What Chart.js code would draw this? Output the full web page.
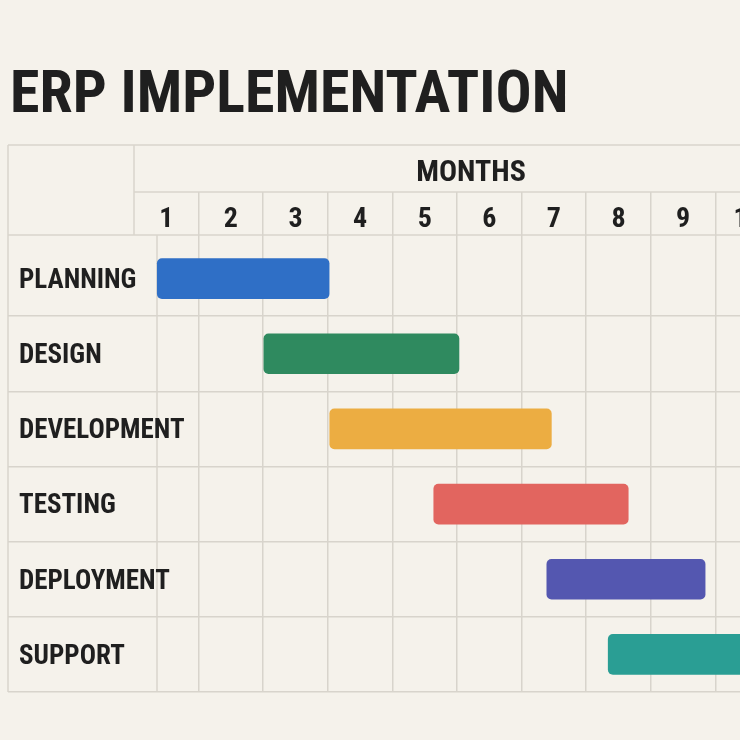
<!DOCTYPE html>
<html>
<head>
<meta charset="utf-8">
<script src="https://cdn.jsdelivr.net/npm/chart.js@4.4.1/dist/chart.umd.min.js"></script>
<style>
  html, body { margin: 0; padding: 0; background: #f5f2eb; }
  #wrap { width: 740px; height: 740px; }
  canvas { display: block; }
</style>
</head>
<body>
<div id="wrap"><canvas id="c" width="740" height="740"></canvas></div>
<script>
// ---- data ----
const chartTitle = 'ERP IMPLEMENTATION';
const headerLabel = 'MONTHS';
const tasks = ['PLANNING', 'DESIGN', 'DEVELOPMENT', 'TESTING', 'DEPLOYMENT', 'SUPPORT'];
const startMonth = [0.36, 2.01, 3.03, 4.64, 6.39, 7.34];
const endMonth   = [3.02, 5.03, 6.46, 7.65, 8.84, 10.0];
const monthLabels = ['1', '2', '3', '4', '5', '6', '7', '8', '9', '10'];
const barColors = ['#2f6fc6', '#2f8a5f', '#ecad42', '#e2655f', '#5457b0', '#2a9e94'];

// ---- styles ----
const FONT = "'Roboto Condensed', Roboto, sans-serif";
const GRID = '#d8d4cc';
const INK = '#1f1f1f';
const CLEAR = 'rgba(0,0,0,0)';

const tableFrame = {
  id: 'tableFrame',
  beforeDraw(chart) {
    const { ctx, chartArea: a } = chart;
    const x0 = chart.scales.x.getPixelForValue(0);
    const W = chart.width;
    const L = 8, T = 145, MID = 192, HB = 235;
    ctx.save();
    ctx.strokeStyle = GRID;
    ctx.lineWidth = 1.5;
    const line = (x1, y1, x2, y2) => { ctx.beginPath(); ctx.moveTo(x1, y1); ctx.lineTo(x2, y2); ctx.stroke(); };
    line(L, T, W, T);
    line(L, T, L, a.bottom);
    line(x0, MID, W, MID);
    line(L, HB, W, HB);
    line(x0, T, x0, HB);
    line(157, HB, 157, a.bottom);
    ctx.restore();
  },
  afterDraw(chart) {
    const { ctx } = chart;
    ctx.save();
    ctx.fillStyle = INK;
    ctx.font = "bold 30px " + FONT;
    ctx.textAlign = 'center';
    ctx.textBaseline = 'middle';
    ctx.fillText(headerLabel, 471, 173);
    ctx.restore();
  }
};

new Chart(document.getElementById('c'), {
  type: 'bar',
  data: {
    labels: tasks,
    datasets: [{
      data: tasks.map((t, i) => [startMonth[i], endMonth[i]]),
      backgroundColor: barColors,
      borderRadius: 5,
      borderSkipped: false,
      barThickness: 40,
      xAxisID: 'x',
      yAxisID: 'y'
    }]
  },
  options: {
    indexAxis: 'y',
    responsive: false,
    animation: false,
    layout: { padding: { left: 10, right: 0, top: 0, bottom: 48 } },
    plugins: {
      legend: { display: false },
      tooltip: { enabled: false },
      title: {
        display: true,
        text: chartTitle,
        align: 'start',
        color: INK,
        font: { family: FONT, size: 60, weight: 'bold' },
        padding: { top: 61, bottom: 12 }
      }
    },
    scales: {
      x: {
        type: 'linear',
        position: 'top',
        min: 0,
        max: 9.38,
        afterBuildTicks: s => { s.ticks = monthLabels.map((_, i) => ({ value: i })); },
        afterFit: s => { s.height = 96; },
        grid: {
          color: c => (c.tick && c.tick.value === 0) ? CLEAR : GRID,
          lineWidth: 1.5,
          tickLength: 49,
          drawTicks: true
        },
        border: { display: false },
        ticks: {
          callback: v => monthLabels[v],
          labelOffset: 32.3,
          padding: -45,
          autoSkip: false,
          maxRotation: 0,
          color: INK,
          font: { family: FONT, size: 28, weight: 'bold' }
        }
      },
      y: {
        type: 'category',
        position: 'left',
        afterFit: s => { s.width = 124; },
        grid: {
          color: c => c.index === 0 ? CLEAR : GRID,
          lineWidth: 1.5,
          tickLength: 126,
          offset: true
        },
        border: { display: false },
        ticks: {
          mirror: true,
          padding: -115,
          labelOffset: 2.5,
          color: INK,
          font: { family: FONT, size: 27, weight: 'bold' }
        }
      }
    }
  },
  plugins: [tableFrame]
});
</script>
</body>
</html>
